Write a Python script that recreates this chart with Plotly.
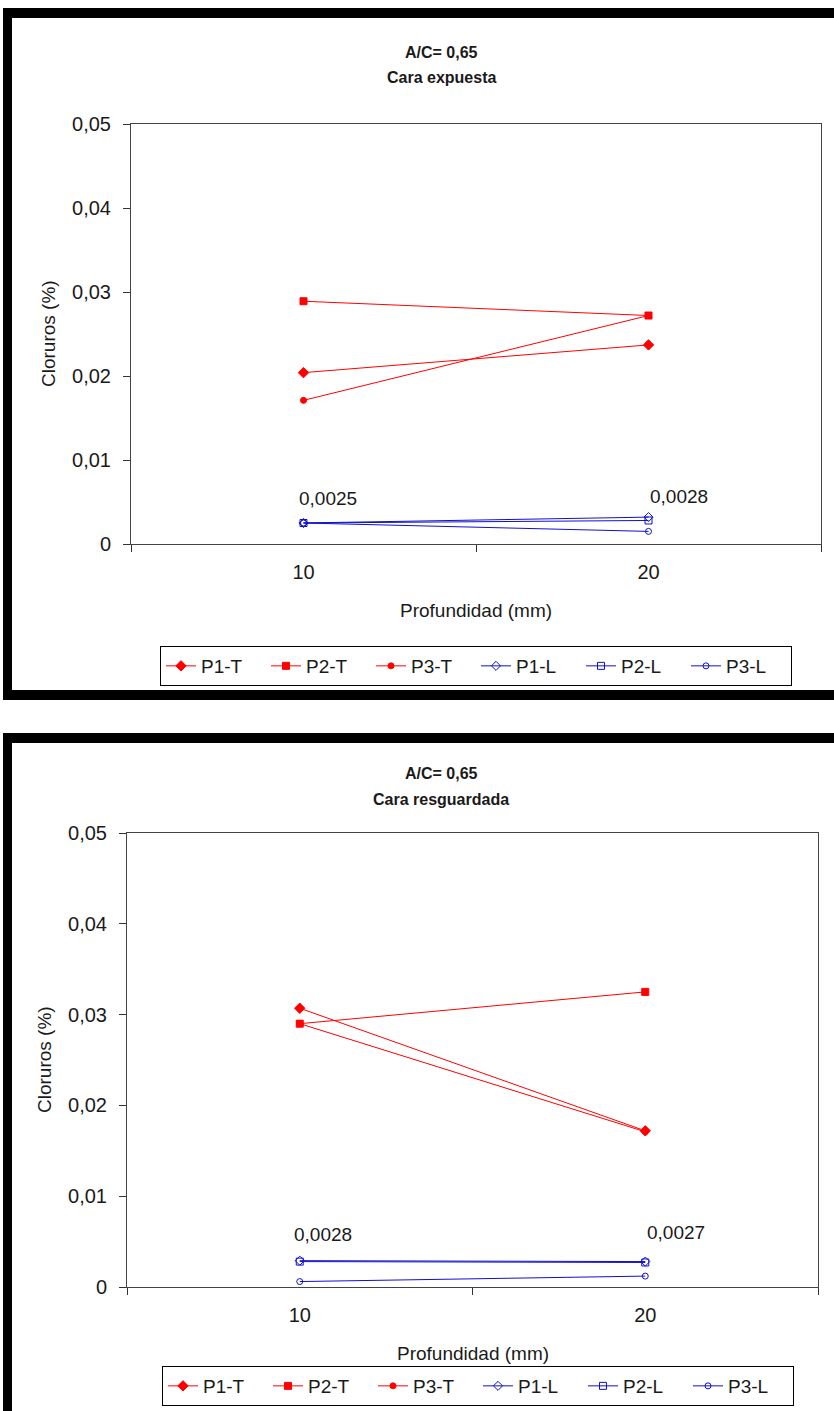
import plotly.graph_objects as go

# ---------------- data ----------------
categories = ["10", "20"]
series_names = ["P1-T", "P2-T", "P3-T", "P1-L", "P2-L", "P3-L"]

# Top chart: Cara expuesta
exp_P1T = [0.0204, 0.0237]
exp_P2T = [0.0289, 0.0272]
exp_P3T = [0.0171, 0.0272]
exp_P1L = [0.0025, 0.0032]
exp_P2L = [0.0025, 0.0028]
exp_P3L = [0.0025, 0.0015]

# Bottom chart: Cara resguardada
res_P1T = [0.0307, 0.0172]
res_P2T = [0.0290, 0.0325]
res_P3T = [0.0290, 0.0171]
res_P1L = [0.0029, 0.0028]
res_P2L = [0.0028, 0.0027]
res_P3L = [0.0006, 0.0012]

y_ticks = [0, 0.01, 0.02, 0.03, 0.04, 0.05]
y_ticktext = ["0", "0,01", "0,02", "0,03", "0,04", "0,05"]

title_line1 = "A/C= 0,65"
title_top = "Cara expuesta"
title_bottom = "Cara resguardada"
x_title = "Profundidad (mm)"
y_title = "Cloruros (%)"

# ---------------- styling ----------------
W, H = 834, 1411
RED = "#FF0000"
BLUE = "#1010CC"
FONT = "Liberation Sans, Arial, sans-serif"
TXT = "#1a1a1a"
FS_TICK = 20
FS_AXT = 19
FS_LEG = 19
FS_LAB = 19

styles = [
    dict(color=RED, symbol="diamond", size=8),
    dict(color=RED, symbol="square", size=7),
    dict(color=RED, symbol="circle", size=6),
    dict(color=BLUE, symbol="diamond-open", size=7),
    dict(color=BLUE, symbol="square-open", size=7),
    dict(color=BLUE, symbol="circle-open", size=6),
]


def px_x(p):
    return p / W


def px_y(p):
    return 1 - p / H


fig = go.Figure()
top_data = [exp_P1T, exp_P2T, exp_P3T, exp_P1L, exp_P2L, exp_P3L]
bot_data = [res_P1T, res_P2T, res_P3T, res_P1L, res_P2L, res_P3L]

for axes, lg, data in [(("x", "y"), "legend", top_data), (("x2", "y2"), "legend2", bot_data)]:
    for name, vals, st in zip(series_names, data, styles):
        fig.add_trace(go.Scatter(
            x=categories, y=vals, name=name, mode="lines+markers",
            line=dict(color=st["color"], width=1),
            marker=dict(symbol=st["symbol"], size=st["size"], color=st["color"],
                        line=dict(color=st["color"], width=1)),
            xaxis=axes[0], yaxis=axes[1], legend=lg))

axis_common_x = dict(
    type="category", range=[-0.5, 1.5], tickson="boundaries",
    ticks="outside", ticklen=7, tickcolor="#333", tickwidth=1,
    showline=True, linecolor="#444", linewidth=1, mirror=True,
    showgrid=False, zeroline=False, ticklabelstandoff=10,
    tickfont=dict(family=FONT, size=FS_TICK, color=TXT),
)
axis_common_y = dict(
    range=[0, 0.05], tickvals=y_ticks, ticktext=y_ticktext,
    ticks="outside", ticklen=7, tickcolor="#333", tickwidth=1,
    showline=True, linecolor="#444", linewidth=1, mirror=True,
    showgrid=False, zeroline=False, ticklabelstandoff=8,
    tickfont=dict(family=FONT, size=FS_TICK, color=TXT),
)
legend_common = dict(orientation="h", xanchor="center", yanchor="top",
                     bordercolor="#000", borderwidth=1, bgcolor="white",
                     font=dict(family=FONT, size=FS_LEG, color=TXT),
                     entrywidth=60, itemwidth=30, tracegroupgap=0)

fig.update_layout(
    width=W, height=H,
    margin=dict(l=0, r=0, t=0, b=0, autoexpand=False),
    paper_bgcolor="white", plot_bgcolor="white",
    font=dict(family=FONT, size=FS_TICK, color=TXT),
    xaxis=dict(axis_common_x, domain=[px_x(131), px_x(821)], anchor="y"),
    yaxis=dict(axis_common_y, domain=[px_y(544), px_y(124)], anchor="x"),
    xaxis2=dict(axis_common_x, domain=[px_x(127), px_x(818)], anchor="y2"),
    yaxis2=dict(axis_common_y, domain=[px_y(1287), px_y(833)], anchor="x2"),
    legend=dict(legend_common, x=px_x(476), y=px_y(646)),
    legend2=dict(legend_common, x=px_x(478), y=px_y(1366)),
    showlegend=True,
)

annotations = []
TFONT = dict(family=FONT, size=16, color=TXT)
AFONT = dict(family=FONT, size=FS_AXT, color=TXT)
LFONT = dict(family=FONT, size=FS_LAB, color=TXT)
for txt, yy in [(title_line1, 52), (title_top, 78), (title_line1, 774), (title_bottom, 799)]:
    annotations.append(dict(text="<b>" + txt + "</b>", x=px_x(441), y=px_y(yy),
                            xref="paper", yref="paper", xanchor="center", yanchor="middle",
                            showarrow=False, font=TFONT))
for xx, yy in [(476, 610), (473, 1353)]:
    annotations.append(dict(text=x_title, x=px_x(xx), y=px_y(yy), xref="paper", yref="paper",
                            xanchor="center", yanchor="middle", showarrow=False, font=AFONT))
for xx, yy in [(48, 334), (44, 1060)]:
    annotations.append(dict(text=y_title, x=px_x(xx), y=px_y(yy), xref="paper", yref="paper",
                            xanchor="center", yanchor="middle", textangle=-90,
                            showarrow=False, font=AFONT))


def fmt(v):
    return f"{v:.4f}".replace(".", ",")


for i, (v, ys, xs) in enumerate(zip(exp_P2L, [25, 24], [-7, -1])):
    annotations.append(dict(text=fmt(v), x=i, y=v, xref="x", yref="y",
                            xanchor="left", yanchor="middle", xshift=xs, yshift=ys,
                            showarrow=False, font=LFONT))
for i, (v, ys, xs) in enumerate(zip(res_P2L, [27, 30], [-8, 0])):
    annotations.append(dict(text=fmt(v), x=i, y=v, xref="x2", yref="y2",
                            xanchor="left", yanchor="middle", xshift=xs, yshift=ys,
                            showarrow=False, font=LFONT))
fig.update_layout(annotations=annotations)

shapes = []


def band(x0, y0, x1, y1):
    shapes.append(dict(type="rect", xref="paper", yref="paper",
                       x0=px_x(x0), x1=px_x(x1), y0=px_y(y1), y1=px_y(y0),
                       fillcolor="black", line=dict(width=0), layer="above"))


# black frames around each chart
band(3, 8, 834, 18)
band(3, 8, 12, 700)
band(3, 690, 834, 700)
band(3, 733, 834, 743)
band(3, 733, 12, 1411)
fig.update_layout(shapes=shapes)

fig.write_html("out.html", config={"displayModeBar": False},
               post_script="document.body.style.margin='0';")
